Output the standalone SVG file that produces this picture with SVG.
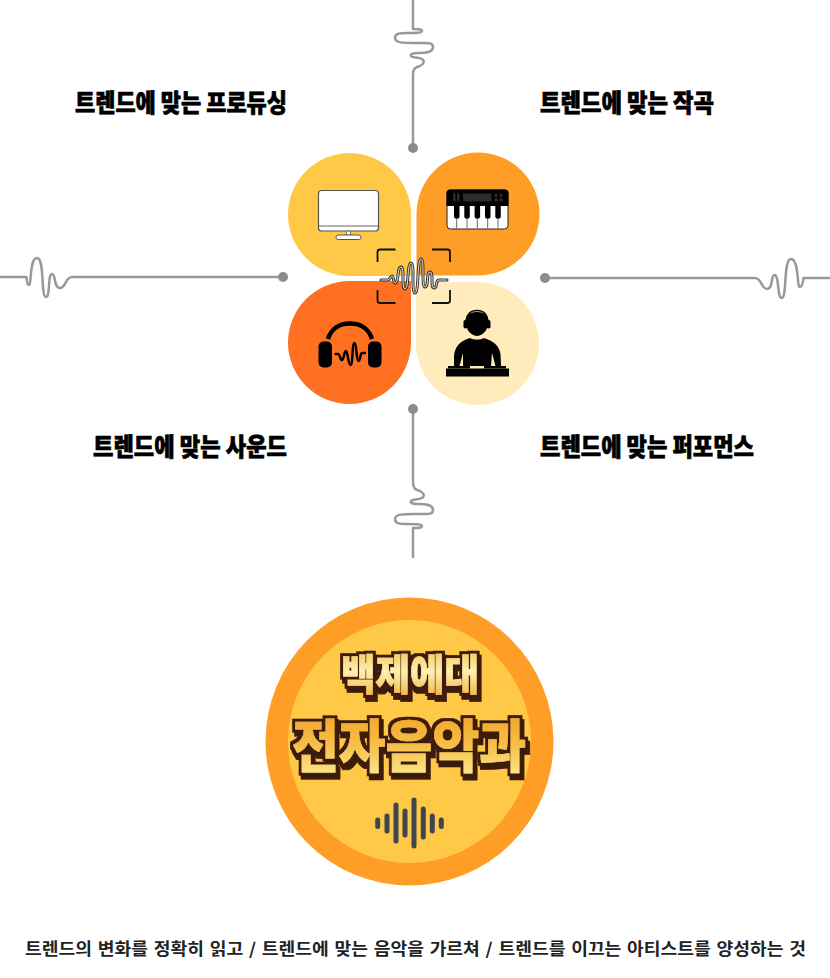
<svg xmlns="http://www.w3.org/2000/svg" width="830" height="978" viewBox="0 0 830 978">
<style>
.wave{fill:none;stroke:#999;stroke-width:2.500;stroke-linecap:round;stroke-linejoin:round}
.dot{fill:#8c8c8c}
.head{font-family:"Noto Sans CJK KR","Noto Sans",sans-serif;font-weight:900;font-size:25px;fill:#000;stroke:#000;stroke-width:.7px}
.foot{font-family:"Noto Sans CJK KR","Noto Sans",sans-serif;font-weight:700;font-size:16.500px;fill:#222;word-spacing:1.500px}
.badge{font-family:"Noto Sans CJK KR","Noto Sans",sans-serif;font-weight:900;filter:url(#drop);stroke-width:.6px}
.bar{stroke:#3f4650;stroke-width:5;stroke-linecap:round}
.ink{fill:#000}
.frame{fill:none;stroke:#111;stroke-width:1.800;stroke-linejoin:round}
</style>
<defs>
<linearGradient id="g1" x1="0" y1="0" x2="0" y2="1"><stop offset="0" stop-color="#f3b43a"/><stop offset=".5" stop-color="#fff0b0"/><stop offset="1" stop-color="#f0a92f"/></linearGradient>
<linearGradient id="g2" x1="0" y1="0" x2="0" y2="1"><stop offset="0" stop-color="#f09a1c"/><stop offset=".55" stop-color="#f7c04a"/><stop offset="1" stop-color="#fff09a"/></linearGradient>
<filter id="drop" x="-10%" y="-20%" width="120%" height="150%">
<feMorphology in="SourceAlpha" operator="dilate" radius="3" result="o"/>
<feFlood flood-color="#3d1f0c"/><feComposite in2="o" operator="in" result="line"/>
<feOffset in="line" dx="1.500" dy="3.500" result="s"/>
<feMerge><feMergeNode in="s"/><feMergeNode in="line"/><feMergeNode in="SourceGraphic"/></feMerge>
</filter>
</defs>
<rect width="830" height="978" fill="#fff"/>

<g id="connectors">
<path class="wave" d="M413 0V29C418 29 422 29 422 31C422 33 415 33 408 33C400 33 395 33 395 38C395 43 404 43 415 43C428 43 433 42 433 47C433 53 424 53 418 53C413 53 410 54 411 56C412 58 418 57 422 59C425 61 424 64 420 66C415 67 413 69 413 75V148"/>
<circle class="dot" cx="413" cy="148" r="5"/>
<path class="wave" d="M413 557V528C418 528 422 528 422 526C422 524 415 524 408 524C400 524 395 524 395 519C395 514 404 514 415 514C428 514 433 515 433 510C433 504 424 504 418 504C413 504 410 503 411 501C412 499 418 500 422 498C425 496 424 493 420 491C415 490 413 488 413 482V409"/>
<circle class="dot" cx="413" cy="409" r="5"/>
<path class="wave" d="M0 277H26.500C27 283 27.500 285 29 285C31.500 285 29.500 258 37 258C45 258 40.500 297 46 297C50.500 297 47.500 274 52 274C56 274 53.500 288 60 288C66 288 65 277 72 277H283"/>
<circle class="dot" cx="283" cy="277" r="5"/>
<path class="wave" d="M830 278H803.500C803 284 802 287 799.500 287C797 287 799 259 791 259C783 259 787.500 298 781.500 298C777 298 779.500 275 774.500 275C770.500 275 773.500 289 767 289C761 289 762 278 755 278H545"/>
<circle class="dot" cx="545" cy="278" r="5"/>
</g>

<g id="node-production">
<path fill="#FFC947" d="M411 276H349.500A61.500 61.500 0 1 1 411 214.500Z"/>
<rect x="318.500" y="190.500" width="60" height="40.500" rx="3" fill="#fff" stroke="#555" stroke-width="1.200"/>
<path d="M319 226H378" stroke="#666" stroke-width="1" fill="none"/>
<path d="M347 231L346 235H351L350 231Z" fill="#fff" stroke="#555" stroke-width=".8"/>
<rect x="336" y="235" width="25" height="4.500" rx="2.200" fill="#fff" stroke="#555" stroke-width="1"/>
<text class="head" x="75" y="112" textLength="212" lengthAdjust="spacingAndGlyphs">트렌드에 맞는 프로듀싱</text>
</g>

<g id="node-composition">
<path fill="#FF9E27" d="M416.500 275.500V214A61.500 61.500 0 1 1 478 275.500Z"/>
<rect x="447" y="190" width="61" height="39" rx="3.500" fill="#fff" stroke="#222" stroke-width="1"/>
<path class="ink" d="M446.500 206V193Q446.500 189.500 450 189.500H505Q508.500 189.500 508.500 193V206Z"/>
<path d="M456.700 206V228.500M467 206V228.500M477.300 206V228.500M487.700 206V228.500M498 206V228.500" stroke="#444" stroke-width=".8"/>
<path class="ink" d="M454 204h5.500v13l-1 1.500h-3.500l-1-1.500ZM464.300 204h5.500v13l-1 1.500h-3.500l-1-1.500ZM474.600 204h5.500v13l-1 1.500h-3.500l-1-1.500ZM485 204h5.500v13l-1 1.500h-3.500l-1-1.500ZM495.300 204h5.500v13l-1 1.500h-3.500l-1-1.500Z"/>
<path fill="#2b2b2b" d="M463 193.500h28.500v8h-28.500ZM453 193.500h2.500v8h-2.500ZM457 193.500h2.500v8h-2.500ZM494.500 193.500h3v3.500h-3ZM499.500 193.500h3v3.500h-3ZM494.500 198h3v3.500h-3ZM499.500 198h3v3.500h-3Z"/>
<text class="head" x="540" y="112" textLength="174" lengthAdjust="spacingAndGlyphs">트렌드에 맞는 작곡</text>
</g>

<g id="node-sound">
<path fill="#FF7020" d="M411 281V342.500A61.500 61.500 0 1 1 349.500 281Z"/>
<path d="M328 339C331 329 339 323.500 350 323.500C361 323.500 369 329 372 339" fill="none" stroke="#000" stroke-width="4.500"/>
<rect x="318.500" y="341.500" width="13.500" height="26" rx="5" class="ink"/>
<rect x="368" y="341.500" width="13.500" height="26" rx="5" class="ink"/>
<path d="M335.500 354H338C340 354 340 360 342 360C344 360 344 351 346 351C348 351 348 365 350.500 365C353 365 352 343 354.500 343C357 343 356 361 358.500 361C360.500 361 360 353 362 353H365" fill="none" stroke="#000" stroke-width="2.500" stroke-linejoin="round" stroke-linecap="round"/>
<text class="head" x="93" y="456" textLength="194" lengthAdjust="spacingAndGlyphs">트렌드에 맞는 사운드</text>
</g>

<g id="node-performance">
<path fill="#FFEBBB" d="M416 282H477.500A61.500 61.500 0 1 1 416 343.500Z"/>
<path class="ink" d="M467 328C463 320 466 312 477 312C488 312 491 320 487 328C486 332 481 336 477 336C473 336 468 332 467 328Z"/>
<path d="M466.500 328V321C466.500 314 471 310.500 477 310.500C483 310.500 487.500 314 487.500 321V328" fill="none" stroke="#000" stroke-width="1.500"/>
<rect x="463.500" y="320" width="4" height="8.500" rx="1.800" class="ink"/><rect x="486.500" y="320" width="4" height="8.500" rx="1.800" class="ink"/>
<path class="ink" d="M470 338C474 340 480 340 484 338C493 341 499 345 500.500 354L501 366H495.500L492 353L491 366H463V353L459.500 366H454L454 356C455 346 460 341 470 338Z"/>
<rect x="446" y="368.500" width="63" height="8" class="ink"/>
<path class="ink" d="M448 366H470V368.500H448ZM484 366H506V368.500H484Z"/>
<text class="head" x="540" y="456" textLength="214" lengthAdjust="spacingAndGlyphs">트렌드에 맞는 퍼포먼스</text>
</g>

<g id="node-center">
<path class="frame" d="M395.500 249.500H380Q377.500 249.500 377.500 252V262M432 249.500H447.500Q450 249.500 450 252V262M395.500 303H380Q377.500 303 377.500 300.500V290M432 303H447.500Q450 303 450 300.500V290"/>
<path fill="none" stroke="#333" stroke-width="3" stroke-linecap="round" d="M381 280H388C390 280 390 276 392 276C394 276 393 283 395 283C399 283 397 267 401 267C405 267 401 289 405 289C409 289 407 263 411 263C415 263 411 293 415 293C419 293 417 259 421 259C425 259 421 287 425 287C429 287 426 272 430 272C434 272 430 288 434 288C438 288 435 280 439 280H447"/>
<path fill="none" stroke="#e8e8e8" stroke-width="1" d="M381 280H388C390 280 390 276 392 276C394 276 393 283 395 283C399 283 397 267 401 267C405 267 401 289 405 289C409 289 407 263 411 263C415 263 411 293 415 293C419 293 417 259 421 259C425 259 421 287 425 287C429 287 426 272 430 272C434 272 430 288 434 288C438 288 435 280 439 280H447"/>
</g>

<g id="node-badge">
<circle cx="409.500" cy="741.500" r="144" fill="#FF9E27"/>
<circle cx="409.500" cy="741.500" r="121.500" fill="#FFC947"/>
<text class="badge" x="341" y="690" font-size="42" fill="url(#g1)" stroke="url(#g1)" textLength="138" lengthAdjust="spacingAndGlyphs">백제에대</text>
<text class="badge" x="292" y="767" font-size="57" fill="url(#g2)" stroke="url(#g2)" textLength="234" lengthAdjust="spacingAndGlyphs">전자음악과</text>
<path class="bar" d="M377.700 820V826.500M387 816V831M396 805V841M405 811V835M414 800V846M423.300 809V837M432.300 816V831M441.300 820V826.500"/>
</g>

<g id="node-caption">
<text class="foot" x="25" y="955" textLength="781" lengthAdjust="spacingAndGlyphs">트렌드의 변화를 정확히 읽고 / 트렌드에 맞는 음악을 가르쳐 / 트렌드를 이끄는 아티스트를 양성하는 것</text>
</g>
</svg>
